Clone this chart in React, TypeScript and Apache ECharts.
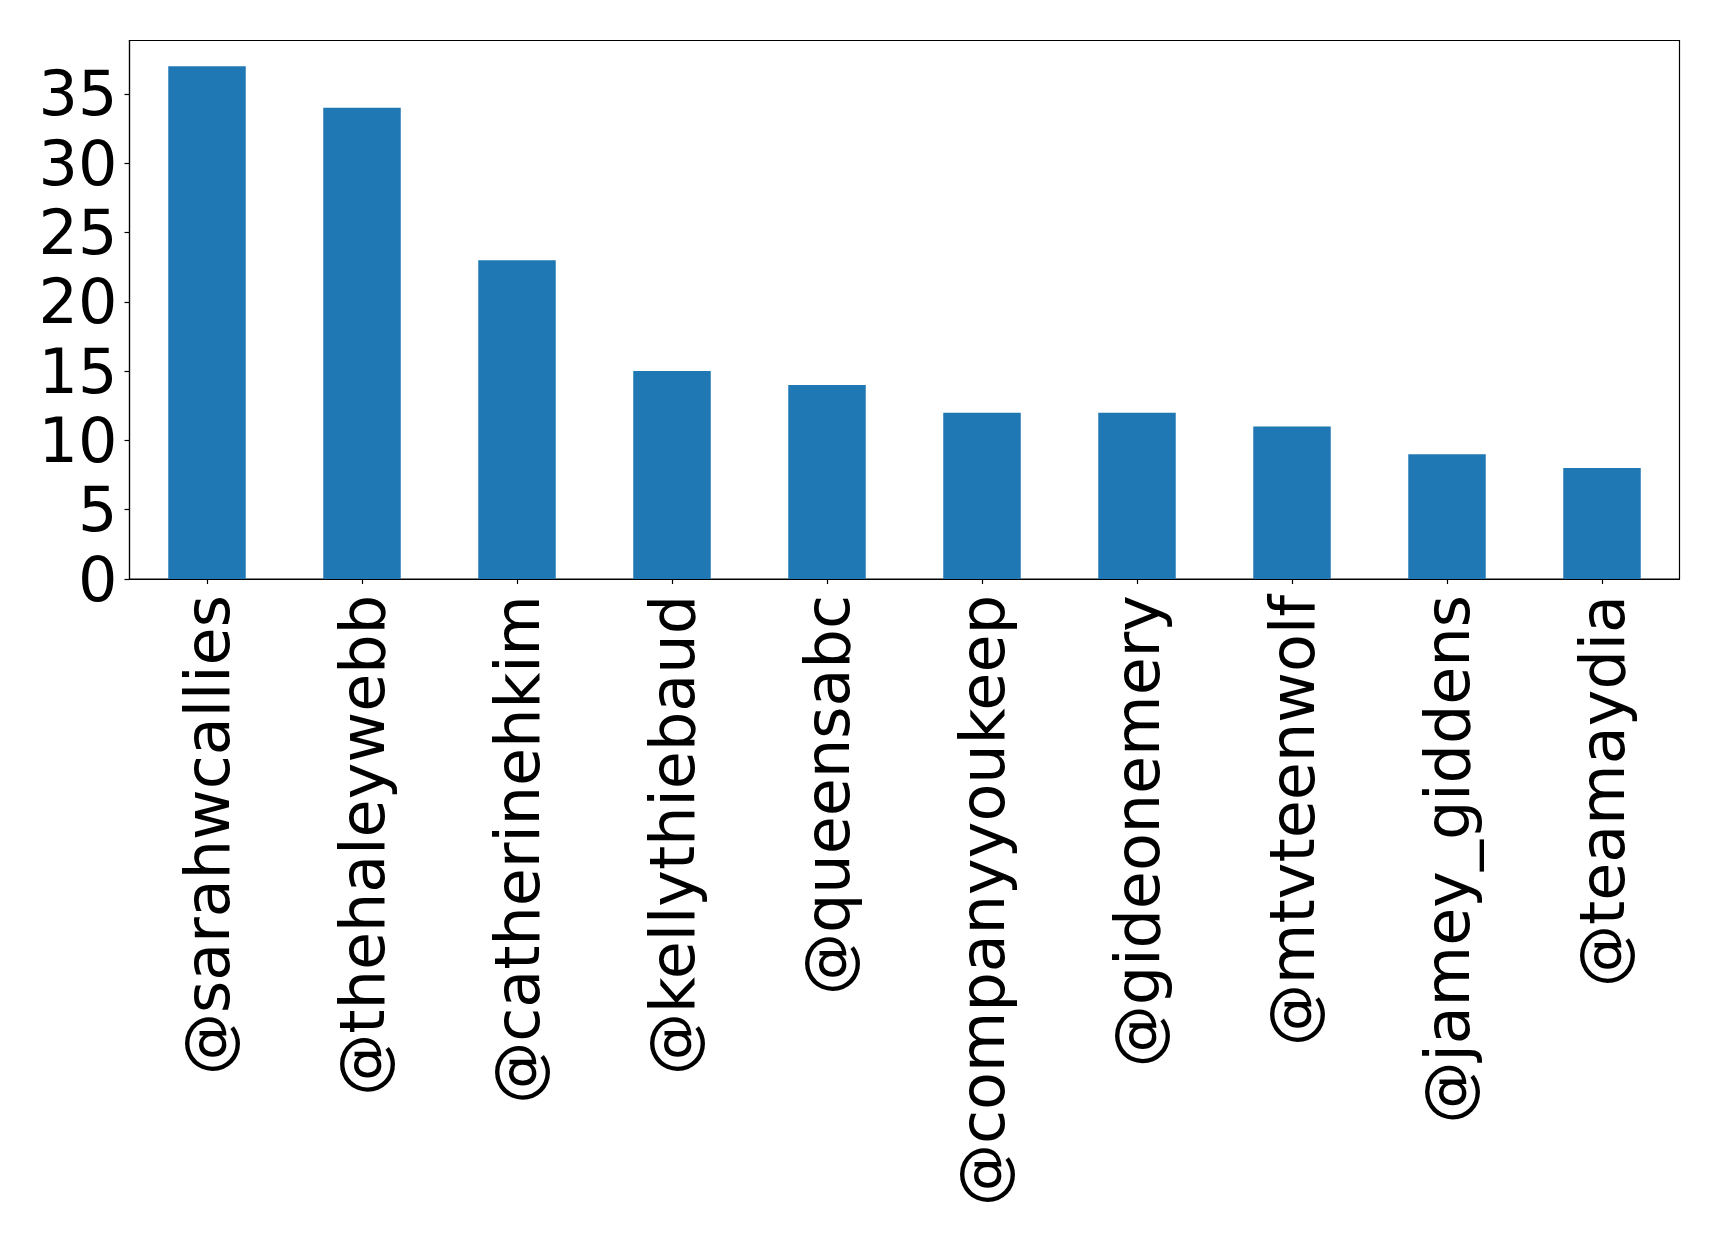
import React, { useEffect, useRef } from "react";
import * as echarts from "echarts";

const categories = [
  "@sarahwcallies",
  "@thehaleywebb",
  "@catherinehkim",
  "@kellythiebaud",
  "@queensabc",
  "@companyyoukeep",
  "@gideonemery",
  "@mtvteenwolf",
  "@jamey_giddens",
  "@teamaydia",
];
const values = [37, 34, 23, 15, 14, 12, 12, 11, 9, 8];
const yMax = 38.85;
const yInterval = 5;

export default function App() {
  const ref = useRef<HTMLDivElement>(null);
  useEffect(() => {
    if (!ref.current) return;
    const chart = echarts.init(ref.current, null, { renderer: "svg" });
    const font = "'DejaVu Sans', sans-serif";
    chart.setOption({
      animation: false,
      backgroundColor: "#ffffff",
      grid: {
        left: 129.5,
        right: 39.5,
        top: 40.5,
        bottom: 665,
        show: true,
        borderColor: "#000000",
        borderWidth: 1.2,
        containLabel: false,
      },
      xAxis: {
        type: "category",
        data: categories,
        axisLine: { show: true, lineStyle: { color: "#000", width: 1.2 } },
        axisTick: { show: true, alignWithLabel: true, length: 5, lineStyle: { color: "#000", width: 1.2 } },
        axisLabel: {
          rotate: 90,
          interval: 0,
          margin: 16,
          fontSize: 62,
          color: "#000",
          fontFamily: font,
        },
      },
      yAxis: {
        type: "value",
        min: 0,
        max: yMax,
        interval: yInterval,
        splitLine: { show: false },
        axisLine: { show: true, lineStyle: { color: "#000", width: 1.2 } },
        axisTick: { show: true, length: 5, lineStyle: { color: "#000", width: 1.2 } },
        axisLabel: {
          margin: 12,
          fontSize: 62,
          color: "#000",
          fontFamily: font,
          showMaxLabel: false,
          formatter: (v: number) => (v % yInterval === 0 ? String(v) : ""),
        },
      },
      series: [
        {
          type: "bar",
          data: values,
          barWidth: "50%",
          itemStyle: { color: "#1f77b4" },
        },
      ],
    });
    return () => chart.dispose();
  }, []);
  return (
    <div
      ref={ref}
      style={{ position: "absolute", left: 0, top: 0, width: 1719, height: 1244 }}
    />
  );
}
